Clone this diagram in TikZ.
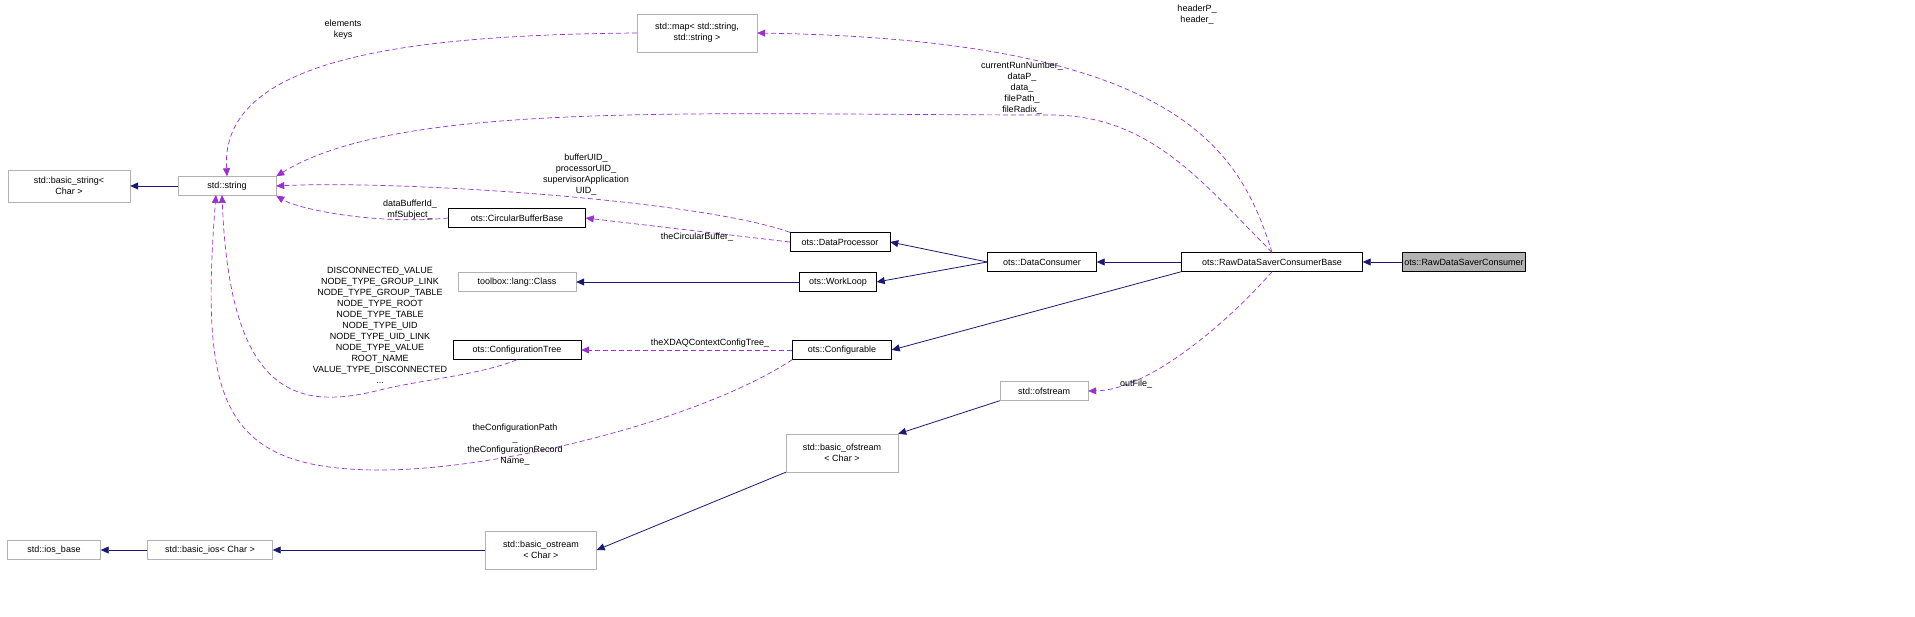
\documentclass[tikz,border=0pt]{standalone}
\usepackage{fontspec}
\setmainfont{Liberation Sans}
\usetikzlibrary{arrows.meta}
\begin{document}
\begin{tikzpicture}[x=1pt,y=-1pt,font=\fontsize{9}{11}\selectfont,
 box/.style={draw=black,rectangle,inner sep=2pt,minimum height=19pt,align=center},
 gbox/.style={draw=gray!60,rectangle,inner sep=2pt,minimum height=19pt,align=center},
 inh/.style={draw={rgb,255:red,25;green,25;blue,112},-{Triangle[length=8pt,width=7pt]},line width=0.8pt},
 use/.style={draw={rgb,255:red,153;green,50;blue,204},dashed,dash pattern=on 5pt off 3pt,-{Triangle[length=8pt,width=7pt]},line width=0.7pt},
 lab/.style={align=center,font=\fontsize{9}{11}\selectfont}]
\useasboundingbox (0,0) rectangle (1915,617);
\node[box,fill=gray!60,minimum width=123pt] (rdsc) at (1464,262) {ots::RawDataSaverConsumer};
\node[box,minimum width=181pt] (base) at (1272,262) {ots::RawDataSaverConsumerBase};
\node[box,minimum width=109pt] (dc) at (1042,262) {ots::DataConsumer};
\node[box,minimum width=100pt] (dp) at (840,242) {ots::DataProcessor};
\node[box,minimum width=77pt] (wl) at (838,282) {ots::WorkLoop};
\node[box,minimum width=99pt] (cf) at (842,350) {ots::Configurable};
\node[box,minimum width=137pt] (cbb) at (517,218) {ots::CircularBufferBase};
\node[gbox,minimum width=118pt] (tlc) at (517,282) {toolbox::lang::Class};
\node[box,minimum width=128pt] (ct) at (517,350) {ots::ConfigurationTree};
\node[gbox,minimum width=98pt] (str) at (227,186) {std::string};
\node[gbox,minimum width=122pt,minimum height=32pt] (bs) at (69,186) {std::basic\_string\textless\\Char \textgreater};
\node[gbox,minimum width=120pt,minimum height=38pt] (map) at (697,33) {std::map\textless{} std::string,\\std::string \textgreater};
\node[gbox,minimum width=88pt] (ofs) at (1044,391) {std::ofstream};
\node[gbox,minimum width=112pt,minimum height=38pt] (bofs) at (842,453) {std::basic\_ofstream\\\textless{} Char \textgreater};
\node[gbox,minimum width=111pt,minimum height=38pt] (bos) at (541,550) {std::basic\_ostream\\\textless{} Char \textgreater};
\node[gbox,minimum width=125pt] (bios) at (210,550) {std::basic\_ios\textless{} Char \textgreater};
\node[gbox,minimum width=93pt] (iob) at (54,550) {std::ios\_base};
% inheritance
\draw[inh] (rdsc) -- (base);
\draw[inh] (base) -- (dc);
\draw[inh] (dc.west) -- (dp.east);
\draw[inh] (dc.west) -- (wl.east);
\draw[inh] (base.south west) -- (cf.east);
\draw[inh] (wl) -- (tlc);
\draw[inh] (str) -- (bs);
\draw[inh] (ofs.south west) -- (bofs.north east);
\draw[inh] (bofs.south west) -- (bos.east);
\draw[inh] (bos.west) -- (bios);
\draw[inh] (bios) -- (iob);
% usage
\draw[use] (map.west) .. controls (400,35) and (220,60) .. (str.north);
\node[lab] at (343,30) {elements\\keys};
\draw[use] (base.north) .. controls (1240,150) and (1180,40) .. (map.east);
\node[lab] at (1197,15) {headerP\_\\header\_};
\draw[use] (base.north) .. controls (1200,180) and (1150,115) .. (1050,115) .. controls (700,115) and (400,100) .. (str.north east);
\node[lab] at (1022,88) {currentRunNumber\_\\dataP\_\\data\_\\filePath\_\\fileRadix\_};
\draw[use] (dp.north west) .. controls (700,200) and (400,180) .. (str.east);
\node[lab] at (586,175) {bufferUID\_\\processorUID\_\\supervisorApplication\\UID\_};
\draw[use] (cbb.west) .. controls (380,225) and (300,210) .. (str.south east);
\node[lab] at (410,210) {dataBufferId\_\\mfSubject\_};
\draw[use] (dp.west) -- (cbb.east);
\node[lab] at (697,237) {theCircularBuffer\_};
\draw[use] (cf.west) -- (ct.east);
\node[lab] at (710,343) {theXDAQContextConfigTree\_};
\draw[use] (ct.south) .. controls (480,375) and (420,380) .. (380,390) .. controls (300,410) and (230,400) .. (222,195);
\node[lab] at (380,325) {DISCONNECTED\_VALUE\\NODE\_TYPE\_GROUP\_LINK\\NODE\_TYPE\_GROUP\_TABLE\\NODE\_TYPE\_ROOT\\NODE\_TYPE\_TABLE\\NODE\_TYPE\_UID\\NODE\_TYPE\_UID\_LINK\\NODE\_TYPE\_VALUE\\ROOT\_NAME\\VALUE\_TYPE\_DISCONNECTED\\...};
\draw[use] (cf.south west) .. controls (700,420) and (500,470) .. (380,470) .. controls (220,470) and (200,400) .. (216,195);
\node[lab] at (515,445) {theConfigurationPath\\\_\\theConfigurationRecord\\Name\_};
\draw[use] (base.south) .. controls (1230,320) and (1150,390) .. (ofs.east);
\node[lab] at (1136,384) {outFile\_};
\end{tikzpicture}
\end{document}
